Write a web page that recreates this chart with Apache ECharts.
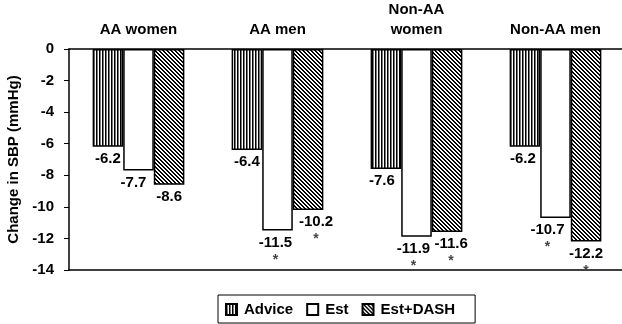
<!DOCTYPE html>
<html><head><meta charset="utf-8">
<script src="https://cdn.jsdelivr.net/npm/echarts@6/dist/echarts.min.js"></script>
<style>html,body{margin:0;padding:0;background:#fff}#c{width:622px;height:324px}</style>
</head><body><div id="c"></div>
<script>
var categories = ['AA women', 'AA men', 'Non-AA\nwomen', 'Non-AA men'];
var seriesNames = ['Advice', 'Est', 'Est+DASH'];
var advice = [-6.2, -6.4, -7.6, -6.2];
var est = [-7.7, -11.5, -11.9, -10.7];
var estDash = [-8.6, -10.2, -11.6, -12.2];
var adviceStar = [false, false, false, false];
var estStar = [false, true, true, true];
var estDashStar = [false, true, true, true];
var yTicks = [0, -2, -4, -6, -8, -10, -12, -14];

// label nudges (style only)
var adviceDx = [0, 0, -4, -2];
var estDx = [-5, -2, -3, -8];
var estDashDx = [0, 8, 4, 0];

function makePattern(kind) {
  var c = document.createElement('canvas');
  var ctx;
  if (kind === 'vert') {
    c.width = 3; c.height = 3; ctx = c.getContext('2d');
    ctx.fillStyle = '#fff'; ctx.fillRect(0, 0, 3, 3);
    ctx.fillStyle = '#000'; ctx.fillRect(0, 0, 1, 3);
    ctx.fillStyle = '#777'; ctx.fillRect(1, 0, 1, 3);
  } else {
    c.width = 4; c.height = 4; ctx = c.getContext('2d');
    ctx.fillStyle = '#fff'; ctx.fillRect(0, 0, 4, 4);
    ctx.fillStyle = '#000';
    for (var y = 0; y < 4; y++) {
      ctx.fillRect(y, y, 1, 1);
      ctx.fillRect((y + 1) % 4, y, 1, 1);
    }
  }
  return { image: c, repeat: 'repeat' };
}

var font = '"Liberation Sans", Arial, sans-serif';
var fs = 15;

function buildData(vals, stars, dxs) {
  return vals.map(function (v, i) {
    return {
      value: v,
      label: { offset: [dxs[i], 0] },
      star: stars[i]
    };
  });
}

function mkSeries(name, vals, stars, dxs, color) {
  return {
    name: name,
    type: 'bar',
    barGap: '0%',
    barCategoryGap: '34%',
    data: buildData(vals, stars, dxs),
    itemStyle: { color: color, borderColor: '#000', borderWidth: 1.5 },
    label: {
      show: true,
      position: 'bottom',
      distance: 4,
      formatter: function (p) {
        var s = '{v|' + p.value.toFixed(1) + '}';
        if (p.data.star) s += '\n{s|*}';
        return s;
      },
      rich: {
        v: { fontFamily: font, fontWeight: 'bold', fontSize: fs, color: '#000', lineHeight: 16 },
        s: { fontFamily: font, fontWeight: 'bold', fontSize: 14, color: '#444', lineHeight: 19 }
      }
    }
  };
}

var chart = echarts.init(document.getElementById('c'));
chart.setOption({
  animation: false,
  grid: { left: 69, right: -3, top: 49, bottom: 54, containLabel: false, outerBoundsMode: 'none' },
  legend: {
    data: seriesNames,
    left: 218, top: 295,
    selectedMode: false,
    borderColor: '#000', borderWidth: 1,
    padding: [7, 20, 6, 7],
    itemWidth: 11, itemHeight: 11, itemGap: 13,
    icon: 'rect',
    textStyle: { fontFamily: font, fontWeight: 'bold', fontSize: fs, color: '#000', padding: [0, 0, 0, 2] }
  },
  xAxis: [{
    type: 'category', position: 'top', data: categories,
    axisLine: { lineStyle: { color: '#000', width: 1.5 } },
    axisTick: { inside: true, length: 4, lineStyle: { color: '#000', width: 1 } },
    axisLabel: { fontFamily: font, fontWeight: 'bold', fontSize: fs, color: '#000', margin: 9, lineHeight: 20 }
  }, {
    type: 'category', position: 'bottom', data: categories,
    axisLine: { onZero: false, lineStyle: { color: '#000', width: 1.5 } },
    axisTick: { show: false }, axisLabel: { show: false }
  }],
  yAxis: {
    type: 'value', min: yTicks[yTicks.length - 1], max: yTicks[0], interval: 2,
    name: 'Change in SBP (mmHg)', nameLocation: 'middle', nameGap: 40,
    nameTextStyle: { fontFamily: font, fontWeight: 'bold', fontSize: fs, color: '#000' },
    axisLine: { show: true, lineStyle: { color: '#000', width: 1.5 } },
    axisTick: { show: true, length: 5, lineStyle: { color: '#000', width: 1 } },
    axisLabel: { fontFamily: font, fontWeight: 'bold', fontSize: fs, color: '#000', margin: 15 },
    splitLine: { show: false }
  },
  series: [
    mkSeries(seriesNames[0], advice, adviceStar, adviceDx, makePattern('vert')),
    mkSeries(seriesNames[1], est, estStar, estDx, '#fff'),
    mkSeries(seriesNames[2], estDash, estDashStar, estDashDx, makePattern('diag'))
  ]
});
</script></body></html>
